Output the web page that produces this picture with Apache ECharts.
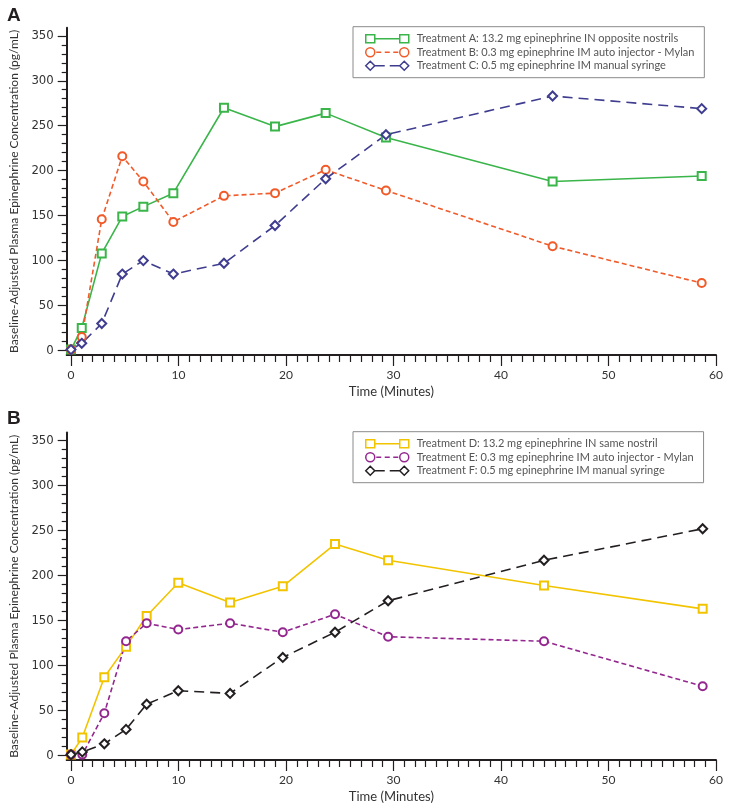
<!DOCTYPE html>
<html>
<head>
<meta charset="utf-8">
<script src="https://cdn.jsdelivr.net/npm/echarts@6/dist/echarts.min.js"></script>
<style>
html,body{margin:0;padding:0;background:#fff;}
#chart{width:731px;height:811px;}
</style>
</head>
<body>
<div id="chart"></div>
<script>
// ---- Data ----
const timeA = [0, 1.0, 2.86, 4.77, 6.73, 9.52, 14.23, 18.98, 23.69, 29.3, 44.8, 58.67];
const treatmentA = [1, 25, 108, 149, 160, 175, 270, 249, 264, 237, 188, 194];
const treatmentB = [1, 15, 146, 216, 188, 143, 172, 175, 201, 178, 116, 75];
const treatmentC = [1, 8, 30, 85, 100, 85, 97, 139, 191, 240, 283, 269];

const timeB = [0, 1.05, 3.1, 5.12, 7.04, 9.98, 14.8, 19.7, 24.56, 29.5, 44.0, 58.76];
const treatmentD = [1, 20, 87, 121, 155, 192, 170, 188, 235, 217, 189, 163];
const treatmentE = [1, 1, 47, 127, 147, 140, 147, 137, 157, 132, 127, 77];
const treatmentF = [1, 4, 13, 29, 57, 72, 69, 109, 137, 172, 217, 252];

const namesA = [
  'Treatment A: 13.2 mg epinephrine IN opposite nostrils',
  'Treatment B: 0.3 mg epinephrine IM auto injector - Mylan',
  'Treatment C: 0.5 mg epinephrine IM manual syringe'
];
const namesB = [
  'Treatment D: 13.2 mg epinephrine IN same nostril',
  'Treatment E: 0.3 mg epinephrine IM auto injector - Mylan',
  'Treatment F: 0.5 mg epinephrine IM manual syringe'
];

const xTickLabels = [0, 10, 20, 30, 40, 50, 60];
const yTickLabels = [0, 50, 100, 150, 200, 250, 300, 350];
const xMinor = [];
for (let i = 1; i < 60; i++) if (i % 10 !== 0) xMinor.push(i);
const yMinor = [];
for (let v = 10; v < 360; v += 10) if (v % 50 !== 0) yMinor.push(v);

// ---- Styles ----
const AX = '#231f20';
const cGreen = '#3ab54a', cOrange = '#f15a29', cBlue = '#3f3d8f';
const cYellow = '#f2c400', cPurple = '#93278f', cBlack = '#231f20';
const shortDash = [5, 3], longDash = [10, 6];

const iconSquare = 'path://M0,1 h9 v8 h-9 Z M34,1 h9 v8 h-9 Z M9,5 H34';
const iconCircle = 'path://M0,5 a4.5,4.5 0 1,0 9,0 a4.5,4.5 0 1,0 -9,0 Z M34,5 a4.5,4.5 0 1,0 9,0 a4.5,4.5 0 1,0 -9,0 Z M10.5,5 h5 M19,5 h5 M27.5,5 h5';
const iconDiamond = 'path://M0,5 L4.5,0.5 L9,5 L4.5,9.5 Z M34,5 L38.5,0.5 L43,5 L38.5,9.5 Z M9,5 h10 M24,5 h10';

const rects = [
  {left: 66.7, top: 27.7, width: 649.3, height: 327.3},
  {left: 66.7, top: 432.5, width: 649.3, height: 327.5}
];
// grids 0,1: data grids; grids 2,3: same rectangles, only carrying minor ticks
const grids = rects.concat(rects).map(g => Object.assign({containLabel: false, outerBoundsMode: 'none'}, g));

function majorX(gi) {
  return {
    type: 'value', gridIndex: gi, min: -0.4, max: 60, position: 'bottom',
    axisLine: {show: true, onZero: false, lineStyle: {color: AX, width: 2}},
    axisTick: {show: true, length: 11, customValues: xTickLabels, lineStyle: {color: AX, width: 1.2}},
    axisLabel: {show: true, customValues: xTickLabels, margin: 14, color: '#333', fontSize: 12, fontFamily: 'Lato'},
    splitLine: {show: false},
    name: 'Time (Minutes)', nameLocation: 'middle', nameGap: 30,
    nameTextStyle: {color: '#333', fontSize: 13, fontFamily: 'Lato'}
  };
}
function minorX(gi) {
  return {
    type: 'value', gridIndex: gi, min: -0.4, max: 60, position: 'bottom',
    axisLine: {show: false, onZero: false},
    axisTick: {show: true, length: 7, customValues: xMinor, lineStyle: {color: AX, width: 1.2}},
    axisLabel: {show: false},
    splitLine: {show: false}
  };
}
function majorY(gi) {
  return {
    type: 'value', gridIndex: gi, min: -5, max: 359, position: 'left',
    axisLine: {show: true, onZero: false, lineStyle: {color: AX, width: 2}},
    axisTick: {show: true, length: 9, customValues: yTickLabels, lineStyle: {color: AX, width: 1.2}},
    axisLabel: {show: true, customValues: yTickLabels, margin: 13, color: '#333', fontSize: 13,
      fontFamily: "'Liberation Sans Narrow', 'DejaVu Sans Condensed', sans-serif"},
    splitLine: {show: false},
    name: 'Baseline-Adjusted Plasma Epinephrine Concentration (pg/mL)',
    nameLocation: 'middle', nameGap: 40, nameRotate: 90,
    nameTextStyle: {color: '#333', fontSize: 12, fontFamily: 'Lato'}
  };
}
function minorY(gi) {
  return {
    type: 'value', gridIndex: gi, min: -5, max: 359, position: 'left',
    axisLine: {show: false, onZero: false},
    axisTick: {show: true, length: 5, customValues: yMinor, lineStyle: {color: AX, width: 1.2}},
    axisLabel: {show: false},
    splitLine: {show: false}
  };
}

function mkSeries(name, times, vals, color, symbol, size, dash, gi) {
  return {
    name: name, type: 'line', xAxisIndex: gi, yAxisIndex: gi,
    data: times.map((t, i) => [t, vals[i]]),
    symbol: symbol, symbolSize: size, showAllSymbol: true,
    lineStyle: {color: color, width: 1.6, type: dash},
    itemStyle: {color: color, borderColor: color, borderWidth: 1.5},
    emphasis: {disabled: true},
    animation: false
  };
}

function legendItem(name, icon, color) {
  return {name: name, icon: icon, itemStyle: {color: 'rgba(0,0,0,0)', borderColor: color, borderWidth: 1.5, borderType: 'solid'}};
}
function mkLegend(top, items) {
  return {
    orient: 'vertical', left: 353, top: top,
    padding: [6, 10, 6, 12], itemWidth: 43, itemHeight: 10, itemGap: 1.5,
    backgroundColor: '#fff', borderColor: '#8a8a8a', borderWidth: 1, borderRadius: 0,
    selectedMode: false,
    textStyle: {color: '#555', fontSize: 11, fontFamily: 'Lato', lineHeight: 12, padding: [0, 0, 0, 3]},
    data: items
  };
}

const option = {
  animation: false,
  backgroundColor: '#fff',
  title: [
    {text: 'A', left: 7, top: 6, padding: 0, textStyle: {fontSize: 19, fontWeight: 'bold', fontFamily: 'Liberation Sans', color: AX}},
    {text: 'B', left: 7, top: 409, padding: 0, textStyle: {fontSize: 19, fontWeight: 'bold', fontFamily: 'Liberation Sans', color: AX}}
  ],
  grid: grids,
  xAxis: [majorX(0), majorX(1), minorX(2), minorX(3)],
  yAxis: [majorY(0), majorY(1), minorY(2), minorY(3)],
  legend: [
    mkLegend(26.7, [legendItem(namesA[0], iconSquare, cGreen), legendItem(namesA[1], iconCircle, cOrange), legendItem(namesA[2], iconDiamond, cBlue)]),
    mkLegend(431.7, [legendItem(namesB[0], iconSquare, cYellow), legendItem(namesB[1], iconCircle, cPurple), legendItem(namesB[2], iconDiamond, cBlack)])
  ],
  series: [
    mkSeries(namesA[0], timeA, treatmentA, cGreen, 'emptyRect', 8, 'solid', 0),
    mkSeries(namesA[1], timeA, treatmentB, cOrange, 'emptyCircle', 8, shortDash, 0),
    mkSeries(namesA[2], timeA, treatmentC, cBlue, 'emptyDiamond', 9, longDash, 0),
    mkSeries(namesB[0], timeB, treatmentD, cYellow, 'emptyRect', 8, 'solid', 1),
    mkSeries(namesB[1], timeB, treatmentE, cPurple, 'emptyCircle', 8, shortDash, 1),
    mkSeries(namesB[2], timeB, treatmentF, cBlack, 'emptyDiamond', 9, longDash, 1)
  ]
};

const chart = echarts.init(document.getElementById('chart'), null, {renderer: 'canvas'});
chart.setOption(option);
</script>
</body>
</html>
